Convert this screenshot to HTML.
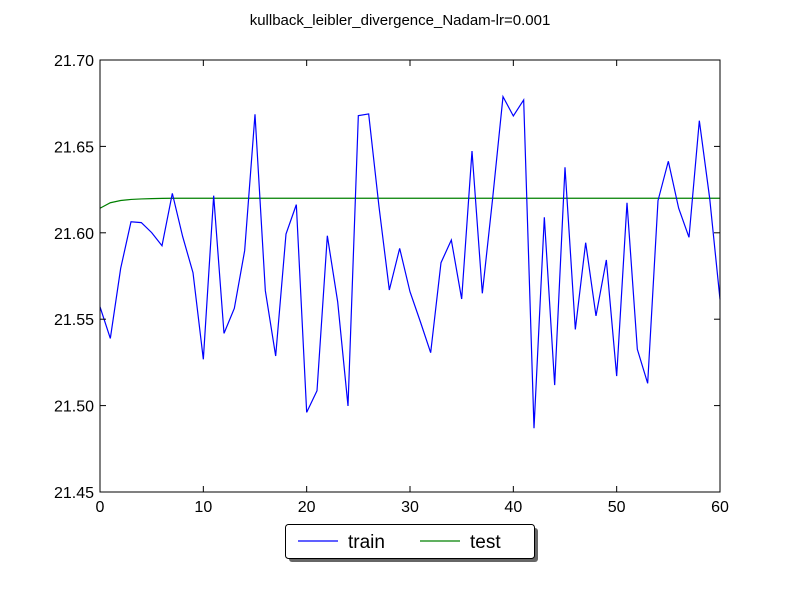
<!DOCTYPE html>
<html><head><meta charset="utf-8"><style>
body{margin:0;background:#fff;}
svg text{font-family:"Liberation Sans","DejaVu Sans",sans-serif;}
</style></head><body>
<svg id="chart" width="800" height="600" xmlns="http://www.w3.org/2000/svg">
<rect width="800" height="600" fill="#fff"/>
<text x="400" y="25" text-anchor="middle" font-size="15">kullback_leibler_divergence_Nadam-lr=0.001</text>
<g id="grid"></g>
<g id="series"></g>
<rect x="100" y="60" width="620" height="432" fill="none" stroke="#000" stroke-width="1"/>
<g id="ticks"></g>
<g>
<rect x="289" y="528" width="249" height="34" rx="3" fill="#555" opacity="0.9"/>
<rect x="285.5" y="524.5" width="249" height="34" rx="3" fill="#fff" stroke="#000"/>
<line x1="298" y1="541" x2="338" y2="541" stroke="#0000ff" stroke-width="1.2"/>
<text x="348" y="548" font-size="19">train</text>
<line x1="420" y1="541" x2="460" y2="541" stroke="#008000" stroke-width="1.2"/>
<text x="470" y="548" font-size="19">test</text>
</g>
</svg>
<script>
const xTicks=[0,10,20,30,40,50,60];
const yTicks=[21.45,21.50,21.55,21.60,21.65,21.70];
const trainValues=[21.5572,21.5389,21.5794,21.6064,21.6059,21.6001,21.5925,21.6228,21.5978,21.5769,21.5268,21.6215,21.5418,21.5563,21.5897,21.6686,21.5665,21.5287,21.5993,21.6163,21.4961,21.5086,21.5983,21.5601,21.4998,21.6678,21.6688,21.6151,21.5669,21.5910,21.5659,21.5486,21.5306,21.5827,21.5958,21.5617,21.6473,21.5650,21.6200,21.6788,21.6676,21.6769,21.4869,21.6090,21.5119,21.6379,21.5441,21.5943,21.5519,21.5843,21.5171,21.6174,21.5326,21.5129,21.6186,21.6414,21.6142,21.5974,21.6649,21.6200,21.5615];
const testValues=[21.6142,21.6174,21.6187,21.6193,21.6196,21.6198,21.6199,21.6200,21.6200,21.6200,21.6200,21.6200,21.6200,21.6200,21.6200,21.6200,21.6200,21.6200,21.6200,21.6200,21.6200,21.6200,21.6200,21.6200,21.6200,21.6200,21.6200,21.6200,21.6200,21.6200,21.6200,21.6200,21.6200,21.6200,21.6200,21.6200,21.6200,21.6200,21.6200,21.6200,21.6200,21.6200,21.6200,21.6200,21.6200,21.6200,21.6200,21.6200,21.6200,21.6200,21.6200,21.6200,21.6200,21.6200,21.6200,21.6200,21.6200,21.6200,21.6200,21.6200,21.6200];
const NS='http://www.w3.org/2000/svg';
const X0=100,X1=720,Y0=492,Y1=60,XMIN=0,XMAX=60,YMIN=21.45,YMAX=21.70;
function xs(v){return X0+(v-XMIN)/(XMAX-XMIN)*(X1-X0);}
function ys(v){return Y0-(v-YMIN)/(YMAX-YMIN)*(Y0-Y1);}
const ser=document.getElementById('series');
function line(vals,color,name){
  const p=document.createElementNS(NS,'polyline');
  p.setAttribute('points',vals.map((v,i)=>xs(i).toFixed(2)+','+ys(v).toFixed(2)).join(' '));
  p.setAttribute('fill','none');p.setAttribute('stroke',color);p.setAttribute('stroke-width','1.2');
  
  
  ser.appendChild(p);
}
line(testValues,'#008000','test-line');
line(trainValues,'#0000ff','train-line');
const tk=document.getElementById('ticks');
xTicks.forEach(t=>{
  const x=xs(t);
  [[Y0,Y0-6],[Y1,Y1+6]].forEach(a=>{
    const l=document.createElementNS(NS,'line');
    l.setAttribute('x1',x);l.setAttribute('x2',x);l.setAttribute('y1',a[0]);l.setAttribute('y2',a[1]);l.setAttribute('stroke','#000');
    
    
    tk.appendChild(l);
  });
  const tx=document.createElementNS(NS,'text');
  tx.setAttribute('x',x);tx.setAttribute('y',Y0+20);tx.setAttribute('text-anchor','middle');tx.setAttribute('font-size','16');
  tx.textContent=t;
  
  
  tk.appendChild(tx);
});
yTicks.forEach(t=>{
  const y=ys(t);
  [[X0,X0+6],[X1,X1-6]].forEach(a=>{
    const l=document.createElementNS(NS,'line');
    l.setAttribute('x1',a[0]);l.setAttribute('x2',a[1]);l.setAttribute('y1',y);l.setAttribute('y2',y);l.setAttribute('stroke','#000');
    
    
    tk.appendChild(l);
  });
  const tx=document.createElementNS(NS,'text');
  tx.setAttribute('x',X0-6);tx.setAttribute('y',y+6);tx.setAttribute('text-anchor','end');tx.setAttribute('font-size','16');
  tx.textContent=t.toFixed(2);
  
  
  tk.appendChild(tx);
});
</script>
</body></html>
